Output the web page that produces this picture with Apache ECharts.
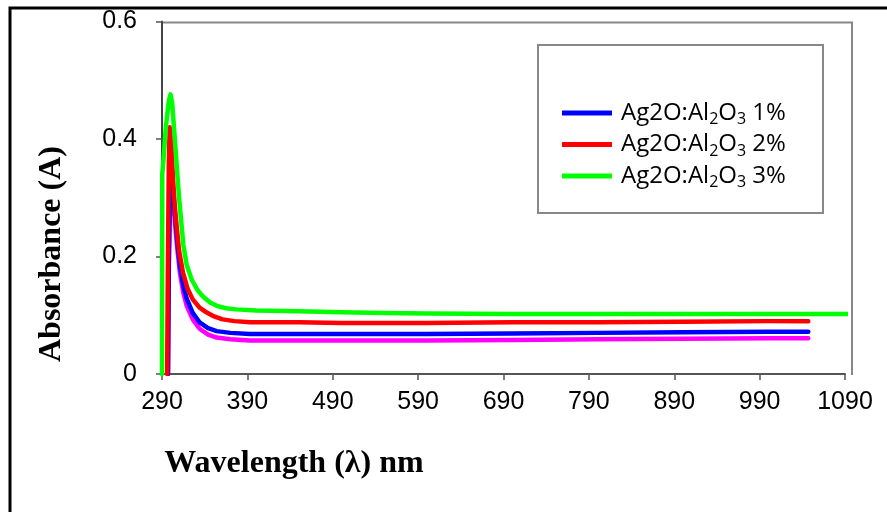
<!DOCTYPE html>
<html>
<head>
<meta charset="utf-8">
<script src="https://cdn.jsdelivr.net/npm/echarts@6/dist/echarts.min.js"></script>
<style>
  html, body { margin: 0; background: #fff; }
  #chart { width: 887px; height: 512px; }
</style>
</head>
<body>
<div id="chart"></div>
<script>
// x axis ticks (nm) and y axis ticks (A)
const X_MIN = 290
const X_MAX = 1090
const Y_TICKS = [0, 0.2, 0.4, 0.6]

// Ag2O:Al2O3 3% (green)
const wl3 = [290, 290.3, 292, 294.5, 296, 298, 300, 302, 304, 306, 308, 310, 312.5, 315, 319, 325, 332, 338, 346, 354, 365, 377, 400, 450, 500, 550, 600, 700, 800, 900, 1000, 1095]
const abs3 = [0, 0.34, 0.37, 0.42, 0.44, 0.465, 0.476, 0.46, 0.42, 0.38, 0.34, 0.30, 0.26, 0.22, 0.185, 0.16, 0.142, 0.132, 0.122, 0.116, 0.112, 0.110, 0.108, 0.107, 0.105, 0.104, 0.103, 0.102, 0.102, 0.102, 0.102, 0.102]

// Ag2O:Al2O3 2% (red)
const wl2 = [296, 297, 298, 299, 301, 303, 305, 307.5, 310, 314.5, 320, 326, 334, 342, 351, 361, 375, 393, 450, 500, 600, 700, 800, 900, 1000, 1047]
const abs2 = [0, 0.2, 0.36, 0.42, 0.39, 0.33, 0.285, 0.246, 0.21, 0.173, 0.145, 0.127, 0.113, 0.105, 0.098, 0.093, 0.09, 0.088, 0.088, 0.087, 0.087, 0.088, 0.088, 0.089, 0.09, 0.09]

// Ag2O:Al2O3 1% (blue)
const wl1 = [297, 298, 299.5, 300.5, 302, 305, 308, 311, 315, 319, 326, 334, 344, 354, 370, 393, 450, 500, 600, 700, 800, 900, 1000, 1047]
const abs1 = [0, 0.2, 0.33, 0.354, 0.33, 0.275, 0.225, 0.184, 0.15, 0.128, 0.104, 0.088, 0.078, 0.073, 0.07, 0.068, 0.068, 0.068, 0.068, 0.069, 0.07, 0.071, 0.072, 0.072]

// unlabeled curve (magenta)
const wl0 = [297, 298, 299.5, 300.5, 302, 305, 308, 311, 315, 319, 326, 334, 344, 354, 370, 393, 450, 500, 600, 700, 800, 900, 1000, 1047]
const abs0 = [0, 0.18, 0.3, 0.33, 0.31, 0.26, 0.212, 0.172, 0.138, 0.116, 0.093, 0.077, 0.067, 0.062, 0.059, 0.057, 0.057, 0.057, 0.057, 0.058, 0.059, 0.060, 0.061, 0.061]

const LEGEND_NAMES = ['Ag2O:Al2O3 1%', 'Ag2O:Al2O3 2%', 'Ag2O:Al2O3 3%']

const zip = (xs, ys) => xs.map((x, i) => [x, ys[i]])

function lineSeries(name, color, xs, ys, clip) {
  return {
    name,
    type: 'line',
    data: zip(xs, ys),
    showSymbol: false,
    symbol: 'none',
    clip,
    lineStyle: { color, width: 4.5, cap: 'round', join: 'round' },
    itemStyle: { color },
    emphasis: { disabled: true },
  }
}

const chart = echarts.init(document.getElementById('chart'))

const axisColor = '#555'
const numFont = "'Liberation Sans', Arial, sans-serif"
const titleFont = "'Liberation Serif', 'Times New Roman', serif"
const legendFont = "'Open Sans', sans-serif"

chart.setOption({
  animation: false,
  grid: { left: 162, right: 887 - 845, top: 21.5, bottom: 138, containLabel: false },
  xAxis: {
    type: 'value',
    min: X_MIN,
    max: X_MAX,
    interval: 100,
    axisLine: { show: true, onZero: false, lineStyle: { color: axisColor, width: 2 } },
    axisTick: { show: true, length: 6, lineStyle: { color: axisColor, width: 1.5 } },
    axisLabel: {
      fontSize: 25, color: '#000', margin: 16, fontFamily: numFont,
      formatter: (v) => String(v),
    },
    splitLine: { show: false },
  },
  yAxis: {
    type: 'value',
    min: Y_TICKS[0],
    max: Y_TICKS[Y_TICKS.length - 1],
    interval: 0.2,
    axisLine: { show: true, lineStyle: { color: '#444', width: 2 } },
    axisTick: { show: true, length: 6, lineStyle: { color: axisColor, width: 1.5 } },
    axisLabel: {
      fontSize: 25, color: '#000', margin: 25, fontFamily: numFont,
      formatter: (v) => (v === 0 ? '0' : v.toFixed(1)),
    },
    splitLine: { show: false },
  },
  legend: {
    data: LEGEND_NAMES,
    orient: 'vertical',
    left: 557,
    top: 96,
    icon: 'rect',
    itemWidth: 50,
    itemHeight: 5,
    itemGap: 5,
    selectedMode: false,
    formatter: (name) => {
      const pct = name.split(' ')[1]
      return `{t|Ag2O:Al}{s|2}{t|O}{s|3}{t| ${pct}}`
    },
    textStyle: {
      color: '#000',
      padding: [0, 0, 0, 4],
      rich: {
        t: { fontSize: 24, lineHeight: 29, fontFamily: legendFont, color: '#000' },
        s: { fontSize: 16, lineHeight: 14, verticalAlign: 'bottom', fontFamily: legendFont, color: '#000' },
      },
    },
  },
  graphic: [
    // outer frame (cropped on the right and bottom)
    { type: 'rect', z: 0, shape: { x: 10, y: 8, width: 900, height: 530 }, style: { fill: 'none', stroke: '#000', lineWidth: 3 } },
    // plot area border (top / right)
    { type: 'polyline', z: 0, shape: { points: [[162, 22.5], [852, 22.5], [852, 375]] }, style: { fill: 'none', stroke: '#888', lineWidth: 2 } },
    // legend box
    { type: 'rect', z: 0, shape: { x: 538, y: 45, width: 285, height: 168 }, style: { fill: '#fff', stroke: '#888', lineWidth: 2 } },
    {
      type: 'text', x: 52, y: 254, rotation: Math.PI / 2,
      style: { text: 'Absorbance (A)', fontSize: 32, fontWeight: 'bold', fontFamily: titleFont, fill: '#000', align: 'center', verticalAlign: 'middle' },
    },
    {
      type: 'text', x: 294, y: 464,
      style: { text: 'Wavelength (λ) nm', fontSize: 32, fontWeight: 'bold', fontFamily: titleFont, fill: '#000', align: 'center', verticalAlign: 'middle' },
    },
  ],
  series: [
    lineSeries('magenta', '#ff00ff', wl0, abs0, true),
    lineSeries(LEGEND_NAMES[0], '#0000ff', wl1, abs1, true),
    lineSeries(LEGEND_NAMES[1], '#ff0000', wl2, abs2, true),
    lineSeries(LEGEND_NAMES[2], '#00ff00', wl3, abs3, false),
  ],
})
</script>
</body>
</html>
